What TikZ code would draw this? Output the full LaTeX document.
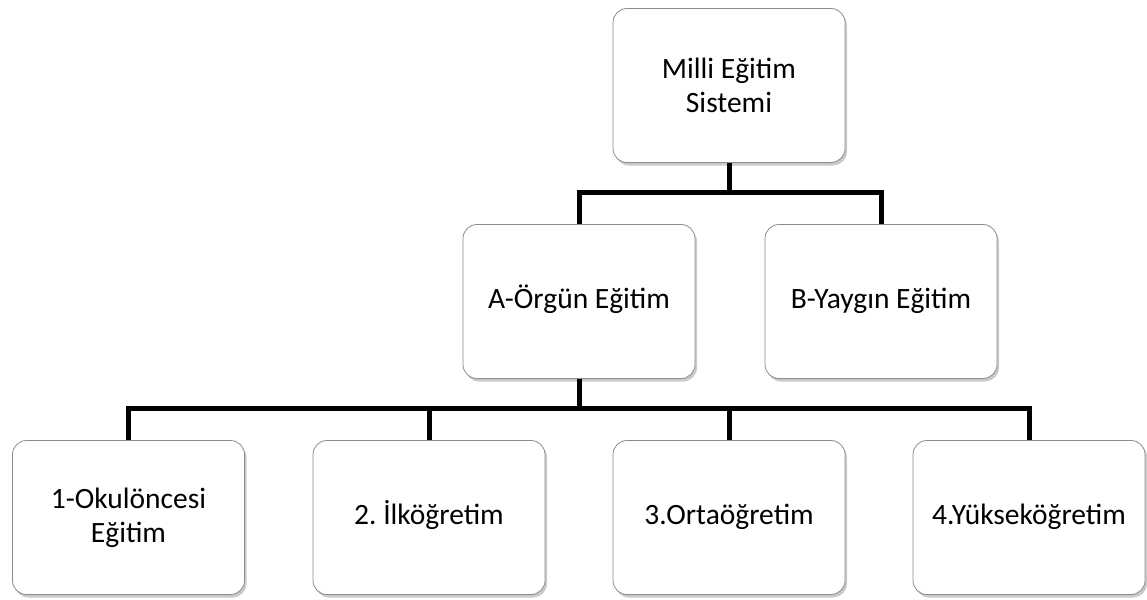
\documentclass[tikz,border=0pt]{standalone}
\usepackage{fontspec}
\setmainfont{Carlito}
\frenchspacing
\usetikzlibrary{shadows}
\tikzset{
  box/.style={draw=black!45, line width=0.8pt, fill=white, rounded corners=14pt,
    minimum width=232pt, minimum height=154pt, align=center, font=\fontsize{29.5}{34}\selectfont\frenchspacing,
    drop shadow={opacity=0.35, shadow xshift=2pt, shadow yshift=-3pt, fill=black!60}},
  single/.style={text height=21pt, text depth=7pt},
  conn/.style={line width=5pt, black}
}
\begin{document}
\begin{tikzpicture}[x=1pt,y=-1pt]
\useasboundingbox (0,0) rectangle (1147,599);
\node[box] (top) at (729,85.5) {Milli Eğitim\\Sistemi};
\node[box,single] (A) at (579,301.5) {A-Örgün Eğitim};
\node[box,single] (B) at (881,301.5) {B-Yaygın Eğitim};
\node[box] (b1) at (128.5,517.5) {1-Okulöncesi\\Eğitim};
\node[box,single] (b2) at (429,517.5) {2. İlköğretim};
\node[box,single] (b3) at (729,517.5) {3.Ortaöğretim};
\node[box,single] (b4) at (1029,517.5) {4.Yükseköğretim};
\coordinate (j1) at (729,192);
\coordinate (j2) at (579,408);
\draw[conn] (top.south) -- (j1);
\draw[conn] (j1) -| (A.north);
\draw[conn] (j1) -| (B.north);
\draw[conn] (A.south) -- (j2);
\draw[conn] (j2) -| (b1.north);
\draw[conn] (j2) -| (b2.north);
\draw[conn] (j2) -| (b3.north);
\draw[conn] (j2) -| (b4.north);
\end{tikzpicture}
\end{document}
